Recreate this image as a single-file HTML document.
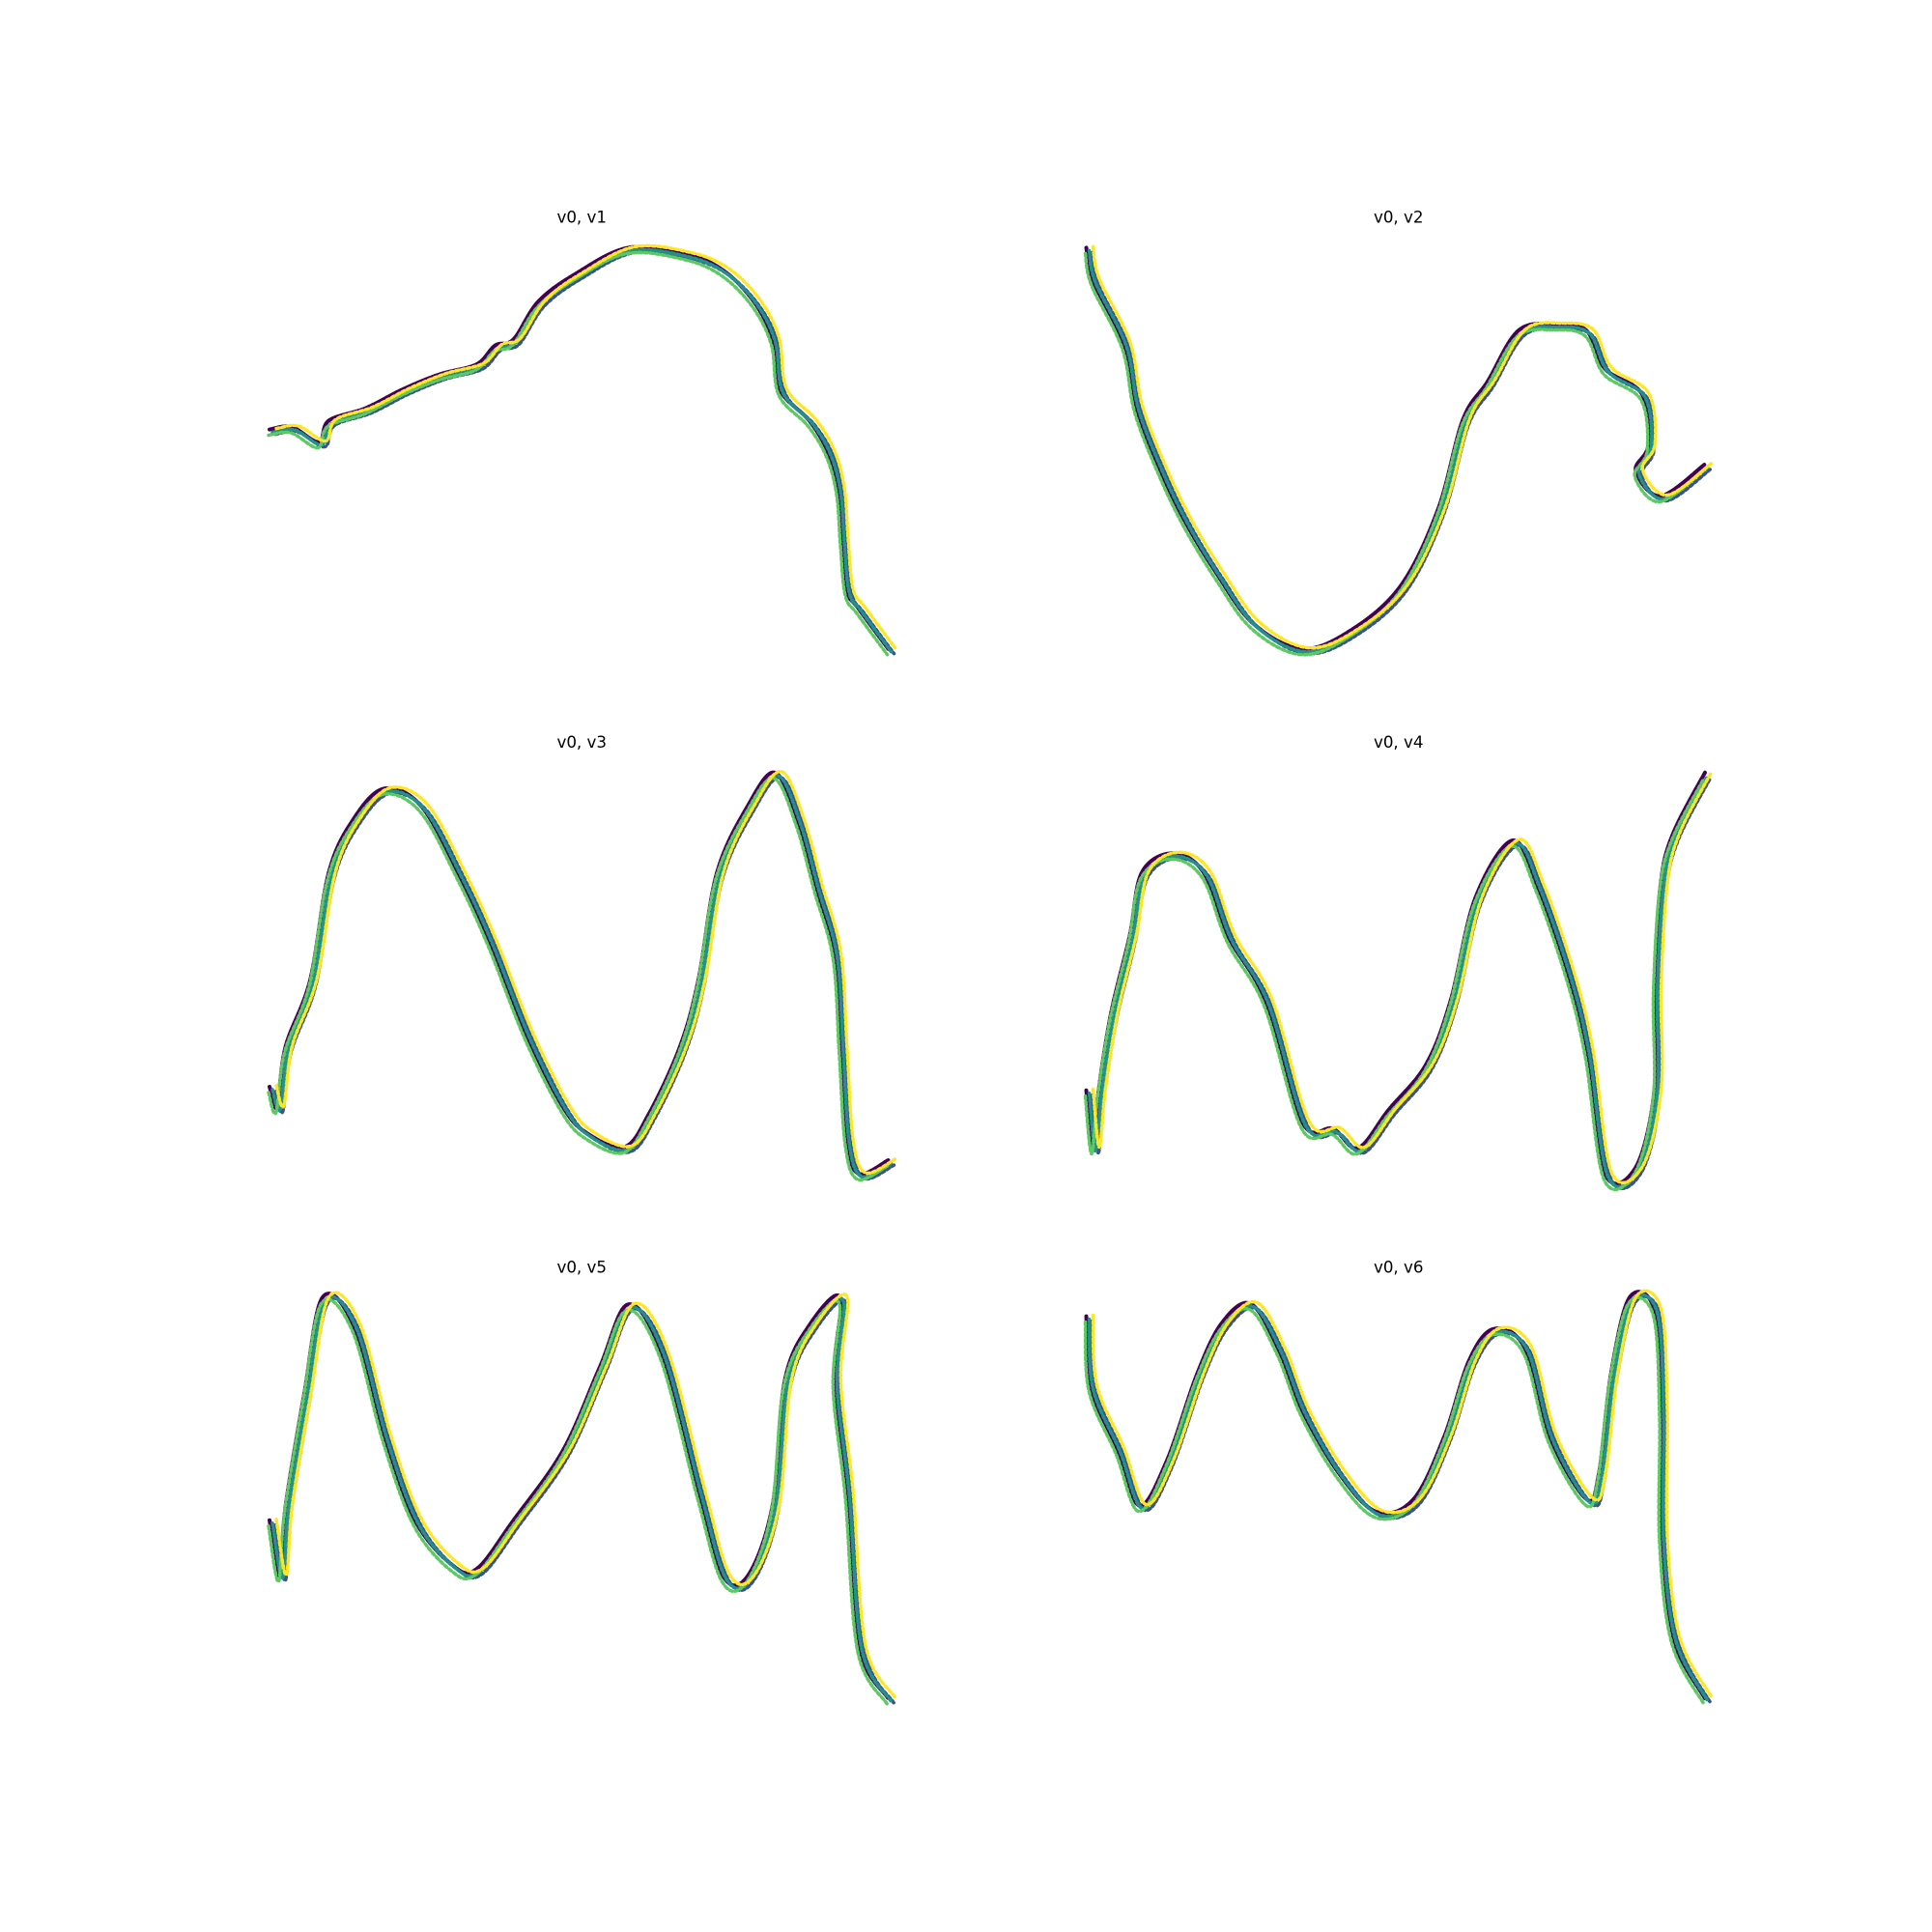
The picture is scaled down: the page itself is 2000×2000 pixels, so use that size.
<!DOCTYPE html>
<html><head><meta charset="utf-8"><style>
html,body{margin:0;padding:0;background:#fff;}
svg{display:block;}
text{font-family:"DejaVu Sans","Liberation Sans",sans-serif;font-size:16.7px;fill:#000;}
</style></head><body>
<svg id="fig" width="2000" height="2000" viewBox="0 0 2000 2000" xmlns="http://www.w3.org/2000/svg"></svg>
<script>
// v0 values (shared horizontal variable) and panel variables
const p1x=[0,18,40,48,78,108,138,168,183,198,218,248,291,338,368,393,408,414,438,453,461,464,468,478,502];
const p1y=[175,177,165,182,192,207,219,227,242,247,277,299,320,315,302,277,247,207,182,157,127,87,47,32,0];
const p2x=[0,5,30,40,60,80,105,135,175,215,255,285,305,325,350,380,405,420,450,455,445,465,501];
const p2y=[322,297,247,197,147,107,67,27,7,22,57,117,187,217,257,262,257,227,207,167,147,127,152];
const p3x=[0,6,13,33,48,68,93,123,153,178,208,238,258,288,308,333,348,363,388,410,428,443,458,463,468,478,502];
const p3y=[73,58,103,153,233,273,296,283,233,183,113,58,38,28,53,103,153,233,283,308,273,223,173,103,33,8,18];
const p4x=[0,5,10,20,35,45,70,95,115,145,175,200,220,245,275,295,315,345,365,390,405,420,445,460,460,465,475,501];
const p4y=[73,28,73,133,193,243,258,243,193,143,48,43,28,58,93,143,223,268,233,163,103,8,13,73,153,233,273,321];
const p5x=[0,8,13,28,43,68,93,118,148,168,198,238,268,291,318,348,368,388,408,418,438,463,458,468,478,502];
const p5y=[130,90,140,220,290,270,190,130,98,95,130,180,240,285,250,150,90,90,140,230,270,290,230,150,40,2];
const p6x=[0,3,25,43,65,90,110,133,155,175,205,235,265,290,310,330,355,375,405,415,425,440,460,465,465,475,501];
const p6y=[305,250,200,155,190,260,300,315,280,230,180,150,160,210,270,295,280,210,160,180,260,320,310,230,130,50,2];
const titles=["v0, v1","v0, v2","v0, v3","v0, v4","v0, v5","v0, v6"];
const xs=[p1x,p2x,p3x,p4x,p5x,p6x];
const ys=[p1y,p2y,p3y,p4y,p5y,p6y];
const colors=["#440154","#3b528b","#21918c","#5ec962","#fde725"];

const NS="http://www.w3.org/2000/svg";
const svg=document.getElementById('fig');
const colX=[[250,954.5],[1095.5,1800]];
const rowY=[[238.7,695.4],[782,1238.7],[1325.3,1782]];
function ext(a){return [Math.min(...a),Math.max(...a)];}
function smooth(P){
  let d='M'+P[0][0]+','+P[0][1];
  for(let j=0;j<P.length-1;j++){
    const p0=P[Math.max(j-1,0)],p1=P[j],p2=P[j+1],p3=P[Math.min(j+2,P.length-1)];
    const c1=[p1[0]+(p2[0]-p0[0])/6,p1[1]+(p2[1]-p0[1])/6];
    const c2=[p2[0]-(p3[0]-p1[0])/6,p2[1]-(p3[1]-p1[1])/6];
    d+=' C'+c1[0]+','+c1[1]+' '+c2[0]+','+c2[1]+' '+p2[0]+','+p2[1];
  }
  return d;
}
for(let i=0;i<6;i++){
  const c=i%2,r=Math.floor(i/2);
  const [L,R]=colX[c],[T,B]=rowY[r];
  const [x0,x1]=ext(xs[i]),[y0,y1]=ext(ys[i]);
  const dx=(x1-x0)*0.05,dy=(y1-y0)*0.05;
  const sx=v=>L+(v-(x0-dx))/((x1+dx)-(x0-dx))*(R-L);
  const sy=v=>B-(v-(y0-dy))/((y1+dy)-(y0-dy))*(B-T);
  const g=document.createElementNS(NS,'g');
  
  
  svg.appendChild(g);
  const t=document.createElementNS(NS,'text');
  
  
  t.setAttribute('x',(L+R)/2);t.setAttribute('y',T-8);
  t.setAttribute('text-anchor','middle');
  t.textContent=titles[i];
  g.appendChild(t);
  const offs=[[-3,-3],[3,2],[0,0],[-4,3],[4,-4]];
  colors.forEach((col,k)=>{
    const P=xs[i].map((v,j)=>[sx(v)+offs[k][0],sy(ys[i][j])+offs[k][1]]);
    const pl=document.createElementNS(NS,'path');
    
    
    pl.setAttribute('d',smooth(P));
    pl.setAttribute('fill','none');
    pl.setAttribute('stroke',col);
    pl.setAttribute('stroke-width',k===0?4:3.5);
    pl.setAttribute('stroke-dasharray',k===0?'3 1':'3 3');
    pl.setAttribute('stroke-linecap','round');
    g.appendChild(pl);
  });
}
</script>
</body></html>
